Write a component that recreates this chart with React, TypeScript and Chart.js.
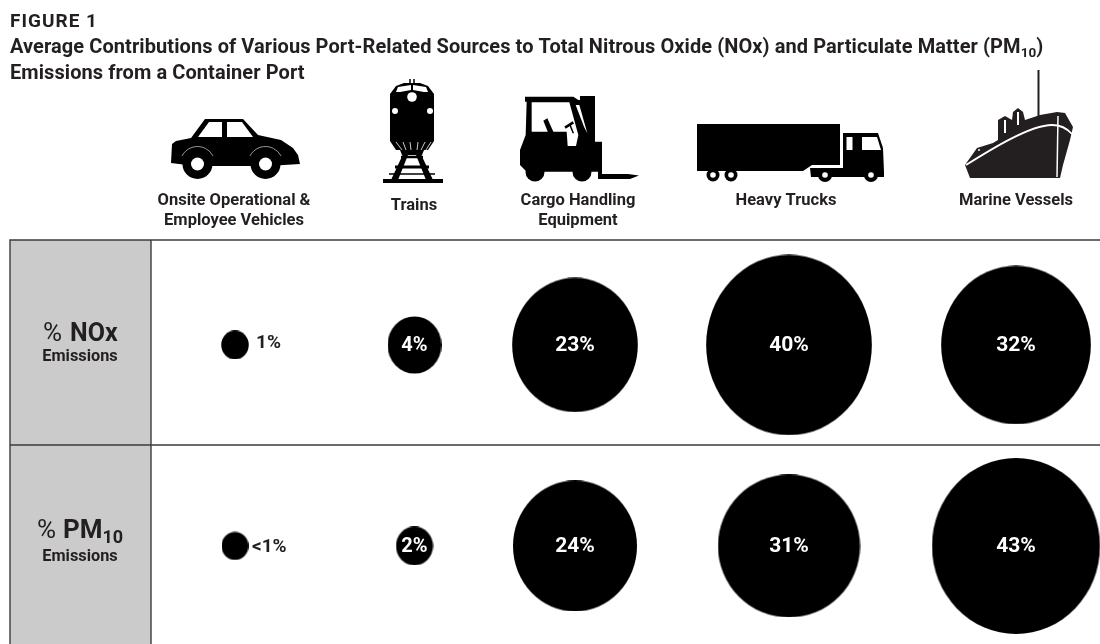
import React, { useEffect, useRef } from "react";
import { Chart, registerables } from "chart.js";

Chart.register(...registerables);

const categories: string[][] = [
  ["Onsite Operational &", "Employee Vehicles"],
  ["Trains", ""],
  ["Cargo Handling", "Equipment"],
  ["Heavy Trucks", ""],
  ["Marine Vessels", ""],
];
const noxValues = [1, 4, 23, 40, 32];
const pm10Values = [1, 2, 24, 31, 43];
const noxLabels = ["1%", "4%", "23%", "40%", "32%"];
const pm10Labels = ["<1%", "2%", "24%", "31%", "43%"];

// layout of the table (page pixels)
const W = 1100;
const H = 644;
const TABLE_LEFT = 10;
const HEAD_RIGHT = 151;
const TABLE_TOP = 240;
const ROW_LINE = 445;
const INK = "#231f20";
const FAMILY = "Roboto, sans-serif";
const bold = (size: number) => `bold ${size}px ${FAMILY}`;
const columnAxis = [84, 263.5, 424, 638, 865];
const labelAxis = [83, 263, 427, 635, 865];
const RADIUS_PER_ROOT = 13.1;
const stretch = [
  { x: [1.05, 1.03, 1.0, 1.0, 1.01], y: [1.1, 1.09, 1.07, 1.09, 1.07] },
  { x: [1.03, 1.0, 0.966, 0.974, 0.978], y: [1.07, 1.05, 1.02, 0.98, 1.024] },
];

function ellipse(rx: number, ry: number) {
  const c = document.createElement("canvas");
  c.width = Math.ceil(rx * 2);
  c.height = Math.ceil(ry * 2);
  const g = c.getContext("2d")!;
  g.fillStyle = "#000";
  g.beginPath();
  g.ellipse(c.width / 2, c.height / 2, rx, ry, 0, 0, Math.PI * 2);
  g.fill();
  return c;
}

function poly(ctx: CanvasRenderingContext2D, pts: number[][], fill: string) {
  ctx.fillStyle = fill;
  ctx.beginPath();
  pts.forEach(([x, y], i) => (i ? ctx.lineTo(x, y) : ctx.moveTo(x, y)));
  ctx.closePath();
  ctx.fill();
}
function disc(ctx: CanvasRenderingContext2D, x: number, y: number, r: number, fill: string) {
  ctx.fillStyle = fill;
  ctx.beginPath();
  ctx.arc(x, y, r, 0, Math.PI * 2);
  ctx.fill();
}
function seg(ctx: CanvasRenderingContext2D, pts: number[][], w: number, color: string) {
  ctx.strokeStyle = color;
  ctx.lineWidth = w;
  ctx.beginPath();
  pts.forEach(([x, y], i) => (i ? ctx.lineTo(x, y) : ctx.moveTo(x, y)));
  ctx.stroke();
}

function drawCar(ctx: CanvasRenderingContext2D) {
  poly(ctx, [[171, 163], [172, 144], [176, 141], [191, 138], [205, 119], [243, 119], [258, 135], [281, 140], [293, 148], [298, 155], [300, 164], [268, 166], [195, 166]], "#000");
  poly(ctx, [[198, 137], [209, 122], [222, 122], [222, 137]], "#fff");
  poly(ctx, [[227, 122], [242, 122], [253, 137], [227, 137]], "#fff");
  for (const x of [197.5, 265.5]) {
    ctx.strokeStyle = "#bbb";
    ctx.lineWidth = 0.8;
    ctx.beginPath();
    ctx.arc(x, 164, 17.5, Math.PI * 1.15, Math.PI * 1.85);
    ctx.stroke();
    disc(ctx, x, 164, 15, "#000");
    disc(ctx, x, 164, 6.5, "#fff");
  }
}

function drawTrain(ctx: CanvasRenderingContext2D) {
  seg(ctx, [[410, 85], [410, 79]], 1.5, "#000");
  seg(ctx, [[414, 85], [414, 79]], 1.5, "#000");
  poly(ctx, [[396, 86], [404, 83], [420, 83], [428, 86], [434, 94], [434, 141], [428, 150], [396, 150], [390, 141], [390, 94]], "#000");
  poly(ctx, [[396, 92], [398, 87], [411, 85], [411, 90], [400, 92]], "#fff");
  poly(ctx, [[428, 92], [426, 87], [413, 85], [413, 90], [424, 92]], "#fff");
  disc(ctx, 412, 97, 4.8, "#fff");
  disc(ctx, 395, 111, 3, "#fff");
  disc(ctx, 430, 111, 3, "#fff");
  for (const [a, b] of [[396, 402], [403, 406], [410, 411], [418, 417], [425, 421], [431, 426]]) {
    seg(ctx, [[a, 142], [b, 150]], 1, "#ccc");
  }
  poly(ctx, [[400, 150], [424, 150], [422, 155], [402, 155]], "#000");
  poly(ctx, [[405, 150], [410, 150], [398, 180], [391, 180]], "#000");
  poly(ctx, [[414, 150], [419, 150], [433, 180], [426, 180]], "#000");
  seg(ctx, [[401, 157], [423, 157]], 2.5, "#000");
  seg(ctx, [[395, 167], [429, 167]], 3, "#000");
  seg(ctx, [[383, 181], [443, 181]], 4, "#000");
  seg(ctx, [[389, 174], [435, 174]], 1.5, "#000");
}

function drawForklift(ctx: CanvasRenderingContext2D) {
  const p = (x: number, y: number) => [510 + x / 3, 90 + y / 3];
  poly(ctx, [p(45, 20), p(190, 20), p(205, 30), p(210, 30), p(210, 18), p(255, 18), p(255, 155), p(275, 155), p(275, 245), p(105, 245), p(50, 245), p(30, 225), p(30, 180), p(47, 135), p(50, 35), p(45, 35)], "#000");
  poly(ctx, [p(65, 37), p(178, 37), p(205, 135), p(198, 168), p(173, 168), p(170, 125), p(65, 125)], "#fff");
  poly(ctx, [p(100, 92), p(112, 85), p(132, 130), p(115, 130)], "#000");
  seg(ctx, [p(165, 113), p(190, 97)], 2.5, "#000");
  seg(ctx, [p(180, 105), p(190, 130)], 1.5, "#000");
  poly(ctx, [p(197, 45), p(208, 45), p(232, 130), p(222, 110)], "#fff");
  disc(ctx, 535, 172, 9.5, "#000");
  disc(ctx, 582, 172, 9.5, "#000");
  poly(ctx, [[598, 142], [602, 142], [602, 174], [628, 174], [639, 175.5], [630, 179], [598, 179]], "#000");
}

function drawTruck(ctx: CanvasRenderingContext2D) {
  poly(ctx, [[697, 124], [840, 124], [840, 165], [812, 165], [803, 171], [697, 171]], "#000");
  poly(ctx, [[843, 133], [878, 133], [883, 148], [884, 172], [884, 177], [811, 177], [810, 168], [843, 168]], "#000");
  poly(ctx, [[846.5, 137], [852.5, 137], [852.5, 150], [846.5, 150]], "#fff");
  poly(ctx, [[862, 137], [877, 137], [881, 150], [862, 150]], "#fff");
  for (const [x, r] of [[713, 6.5], [731, 6.5], [825, 7], [871, 7]]) {
    disc(ctx, x, 175, r, "#000");
    disc(ctx, x, 175, 2.8, "#fff");
  }
}

function drawShip(ctx: CanvasRenderingContext2D) {
  seg(ctx, [[1038.5, 70], [1038.5, 118]], 2, INK);
  poly(ctx, [[965, 165], [977, 148], [993, 143], [998, 140], [998, 120], [1005, 116], [1012, 120], [1013, 112], [1018, 108], [1023, 112], [1025, 120], [1040, 115], [1057, 112], [1065, 113], [1073, 127], [1070, 140], [1063, 165], [1060, 178], [970, 178]], INK);
  ctx.strokeStyle = "#fff";
  ctx.lineWidth = 1.8;
  ctx.beginPath();
  ctx.moveTo(966, 165);
  ctx.bezierCurveTo(990, 150, 1030, 125, 1052, 125);
  ctx.quadraticCurveTo(1064, 125, 1072, 134);
  ctx.stroke();
  seg(ctx, [[1058, 116], [1057, 177]], 1.5, "#fff");
  seg(ctx, [[1005, 120], [1005, 133]], 2, "#fff");
  seg(ctx, [[1018, 112], [1018, 125]], 2, "#fff");
  disc(ctx, 979, 150, 1, "#fff");
}

function withSub(ctx: CanvasRenderingContext2D, main: string, sub: string, tail: string, x: number, y: number, mainFont: string, subFont: string, subDrop: number) {
  ctx.textAlign = "left";
  ctx.textBaseline = "alphabetic";
  ctx.font = mainFont;
  ctx.fillText(main, x, y);
  let cx = x + ctx.measureText(main).width;
  ctx.font = subFont;
  ctx.fillText(sub, cx, y + subDrop);
  cx += ctx.measureText(sub).width;
  ctx.font = mainFont;
  if (tail) ctx.fillText(tail, cx, y);
}

const tablePlugin = {
  id: "table",
  beforeDatasetsDraw(chart: any) {
    const ctx: CanvasRenderingContext2D = chart.ctx;
    ctx.save();
    ctx.fillStyle = "#cbcbcb";
    ctx.fillRect(TABLE_LEFT, TABLE_TOP, HEAD_RIGHT - TABLE_LEFT, H - TABLE_TOP);
    ctx.strokeStyle = "#3c3c3c";
    ctx.lineWidth = 1.4;
    ctx.beginPath();
    ctx.moveTo(TABLE_LEFT, H);
    ctx.lineTo(TABLE_LEFT, TABLE_TOP);
    ctx.lineTo(W, TABLE_TOP);
    ctx.moveTo(TABLE_LEFT, ROW_LINE);
    ctx.lineTo(W, ROW_LINE);
    ctx.moveTo(HEAD_RIGHT, TABLE_TOP);
    ctx.lineTo(HEAD_RIGHT, H);
    ctx.stroke();

    ctx.fillStyle = INK;
    ctx.textBaseline = "alphabetic";
    ctx.textAlign = "left";
    (ctx as any).letterSpacing = "1px";
    ctx.font = bold(19);
    ctx.fillText("FIGURE 1", 10, 27);
    (ctx as any).letterSpacing = "0.08px";
    withSub(ctx, "Average Contributions of Various Port-Related Sources to Total Nitrous Oxide (NOx) and Particulate Matter (PM", "10", ")", 10, 53, bold(20), bold(13.5), 4);
    ctx.font = bold(20);
    ctx.fillText("Emissions from a Container Port", 10, 79);
    (ctx as any).letterSpacing = "0px";

    ctx.font = `26px ${FAMILY}`;
    ctx.fillText("%", 43, 341);
    ctx.font = bold(25);
    ctx.fillText("NOx", 70, 341);
    ctx.font = `26px ${FAMILY}`;
    ctx.fillText("%", 37, 538);
    withSub(ctx, "PM", "10", "", 63, 538, bold(26), bold(18), 5);
    ctx.font = bold(16.3);
    ctx.textAlign = "center";
    ctx.fillText("Emissions", 80, 361);
    ctx.fillText("Emissions", 80, 561);

    drawCar(ctx);
    drawTrain(ctx);
    drawForklift(ctx);
    drawTruck(ctx);
    drawShip(ctx);
    ctx.restore();
  },
  afterDatasetsDraw(chart: any) {
    const ctx: CanvasRenderingContext2D = chart.ctx;
    ctx.save();
    ctx.textBaseline = "middle";
    [noxLabels, pm10Labels].forEach((labels, d) => {
      chart.getDatasetMeta(d).data.forEach((pt: any, i: number) => {
        if (i === 0) {
          ctx.fillStyle = INK;
          ctx.textAlign = "left";
          ctx.font = bold(19);
          ctx.fillText(labels[i], pt.x + (d === 0 ? 21 : 17), pt.y + (d === 0 ? -2 : 1));
        } else {
          ctx.fillStyle = "#fff";
          ctx.textAlign = "center";
          ctx.font = bold(i === 1 ? 20 : 21);
          ctx.fillText(labels[i], pt.x, pt.y + 1);
        }
      });
    });
    ctx.restore();
  },
};

const rowData = (values: number[], row: number) =>
  values.map((v, i) => ({ x: columnAxis[i], y: row, r: RADIUS_PER_ROOT * Math.sqrt(v) }));

export default function App() {
  const ref = useRef<HTMLCanvasElement>(null);
  useEffect(() => {
    document.body.style.margin = "0";
    const chart = new Chart(ref.current!, {
      type: "bubble",
      data: {
        datasets: [
          { label: "% NOx", data: rowData(noxValues, 0) },
          { label: "% PM10", data: rowData(pm10Values, 1) },
        ],
      },
      options: {
        responsive: false,
        animation: false,
        layout: { autoPadding: false, padding: { left: HEAD_RIGHT, top: TABLE_TOP - 60, right: 0, bottom: 0 } },
        plugins: { legend: { display: false }, tooltip: { enabled: false } },
        elements: {
          point: {
            backgroundColor: "#000",
            borderWidth: 0,
            pointStyle: (c: any) => {
              const s = stretch[c.datasetIndex];
              const r = c.raw?.r ?? 10;
              return ellipse(r * s.x[c.dataIndex], r * s.y[c.dataIndex]);
            },
          } as any,
        },
        scales: {
          x: {
            type: "linear",
            position: "top",
            min: 0,
            max: W - HEAD_RIGHT,
            grid: { display: false, drawTicks: false },
            border: { display: false },
            afterFit: (s: any) => {
              s.height = 60;
            },
            afterBuildTicks: (s: any) => {
              s.ticks = labelAxis.map((value) => ({ value }));
            },
            ticks: {
              autoSkip: false,
              maxRotation: 0,
              minRotation: 0,
              padding: 9.25,
              color: INK,
              font: (c: any) => ({
                family: FAMILY,
                size: 16.5,
                weight: "bold",
                lineHeight: c.index === 1 ? 1.02 : 1.21,
              }),
              callback: (_v: any, i: number) => categories[i],
            },
          },
          y: {
            type: "linear",
            display: false,
            reverse: true,
            min: -0.522,
            max: 1.4876,
          },
        },
      },
      plugins: [tablePlugin],
    } as any);
    return () => chart.destroy();
  }, []);
  return <canvas ref={ref} width={W} height={H} style={{ display: "block", background: "#fff" }} />;
}
